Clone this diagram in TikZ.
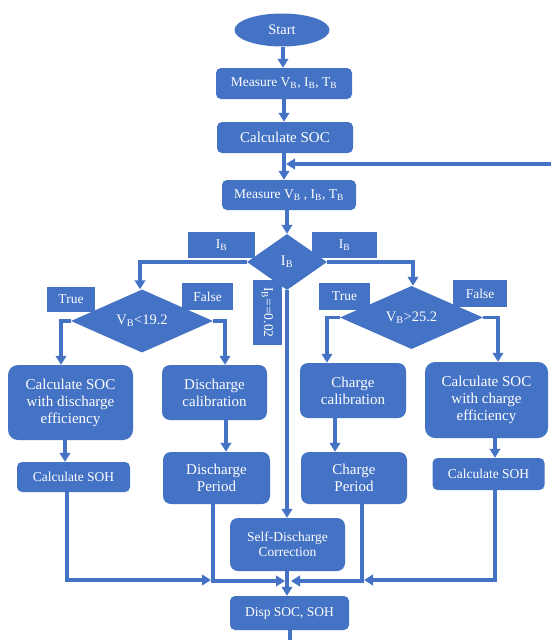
\documentclass[tikz,border=0pt]{standalone}
\usepackage{fontspec}
\setmainfont{Liberation Serif}
\usetikzlibrary{shapes.geometric,arrows.meta}
\definecolor{fcblue}{HTML}{4472C4}
\newcommand{\mysub}[1]{\textsubscript{#1}}
\begin{document}
\begin{tikzpicture}[x=1pt,y=-1pt,
  box/.style={fill=fcblue,text=white,rounded corners=5pt,inner sep=1pt,align=center,font=\fontsize{15}{17}\selectfont},
  sbox/.style={box,font=\fontsize{13.5}{15.5}\selectfont},
  lbl/.style={fill=fcblue,text=white,inner sep=1pt,align=center,font=\fontsize{13.5}{15}\selectfont},
  dia/.style={diamond,fill=fcblue,text=white,inner sep=0pt,font=\fontsize{14.5}{16}\selectfont},
  arr/.style={draw=fcblue,line width=3.2pt,-{Triangle[length=9pt,width=10.5pt]}},
  ln/.style={draw=fcblue,line width=3.2pt}
]
\fill[white] (0,0) rectangle (550,640);
\useasboundingbox (0,0) rectangle (550,640);

% nodes
\node[ellipse,fill=fcblue,text=white,minimum width=95pt,minimum height=33pt,inner sep=0pt,font=\fontsize{14.5}{16}\selectfont] (start) at (282,30) {Start};
\node[sbox,minimum width=136pt,minimum height=31pt] (m1) at (284,83.5) {Measure V\mysub{B}, I\mysub{B}, T\mysub{B}};
\node[box,minimum width=136pt,minimum height=31pt] (csoc) at (285,137.5) {Calculate SOC};
\node[sbox,minimum width=134pt,minimum height=30pt] (m2) at (289,195) {Measure V\mysub{B} , I\mysub{B}, T\mysub{B}};

\node[lbl,minimum width=67pt,minimum height=26pt] (ibl) at (221.5,245) {I\mysub{B}};
\node[lbl,minimum width=65pt,minimum height=26pt] (ibr) at (344.5,245) {I\mysub{B}};
\node[dia,minimum width=80pt,minimum height=56pt] (dib) at (287,262) {I\mysub{B}};

\node[lbl,minimum width=48pt,minimum height=25pt] (tl) at (71,299.5) {True};
\node[lbl,minimum width=51pt,minimum height=27pt] (fl) at (207.5,296.5) {False};
\node[lbl,minimum width=51pt,minimum height=27pt] (tr) at (344.5,296.5) {True};
\node[lbl,minimum width=54pt,minimum height=27pt] (fr) at (480,293.5) {False};

\node[dia,minimum width=142pt,minimum height=58pt] (dl) at (142,321) {V\mysub{B}<19.2};
\node[dia,minimum width=143pt,minimum height=59pt] (dr) at (411.5,317.5) {V\mysub{B}>25.2};

\node[lbl,rotate=-90,minimum width=65pt,minimum height=29pt] (ib0) at (267.5,312.5) {I\mysub{B}==0.02};

\node[box,rounded corners=10pt,minimum width=125pt,minimum height=75pt] (cse) at (70.5,402.5) {Calculate SOC\\with discharge\\efficiency};
\node[box,rounded corners=8pt,minimum width=105pt,minimum height=55pt] (dcal) at (214.5,392.5) {Discharge\\calibration};
\node[sbox,minimum width=113pt,minimum height=30pt] (sohl) at (73.5,477) {Calculate SOH};
\node[box,rounded corners=8pt,minimum width=107pt,minimum height=52pt] (dper) at (216.5,478) {Discharge\\Period};

\node[box,rounded corners=8pt,minimum width=106pt,minimum height=55pt] (ccal) at (353,390.5) {Charge\\calibration};
\node[box,rounded corners=10pt,minimum width=123pt,minimum height=76pt] (cce) at (486.5,400) {Calculate SOC\\with charge\\efficiency};
\node[box,rounded corners=8pt,minimum width=106pt,minimum height=52pt] (cper) at (354,478) {Charge\\Period};
\node[sbox,minimum width=112pt,minimum height=32pt] (sohr) at (488.5,474) {Calculate SOH};

\node[sbox,rounded corners=8pt,minimum width=115pt,minimum height=53pt] (sdc) at (287.5,544.5) {Self-Discharge\\Correction};
\node[sbox,minimum width=119pt,minimum height=34pt] (disp) at (289.5,613) {Disp SOC, SOH};

\coordinate (fb) at (551,164);
\coordinate (bot) at (290,641);

% connectors
\draw[arr] (start.south -| 283,0) -- (m1.north -| 283,0);
\draw[arr] (m1.south -| 284,0) -- (csoc.north -| 284,0);
\draw[arr] (csoc.south -| 284,0) -- (m2.north -| 284,0);
\draw[arr] (fb) -- (286,164);
\draw[arr] (m2.south -| 287,0) -- (dib.north);
\draw[arr] (dib.west) -- (140,262) -- (dl.north -| 140,0);
\draw[arr] (dib.east) -- (413,262) -- (dr.north -| 413,0);
\draw[arr] (dib.south) -- (sdc.north -| 287,0);

\draw[arr] (dl.west) -- (61,321) -- (cse.north -| 61,0);
\draw[arr] (dl.east) -- (225,321) -- (dcal.north -| 225,0);
\draw[arr] (dr.west) -- (327,317.5) -- (ccal.north -| 327,0);
\draw[arr] (dr.east) -- (498,317.5) -- (cce.north -| 498,0);

\draw[arr] (cse.south -| 65,0) -- (sohl.north -| 65,0);
\draw[arr] (dcal.south -| 226,0) -- (dper.north -| 226,0);
\draw[arr] (ccal.south -| 335,0) -- (cper.north -| 335,0);
\draw[arr] (cce.south -| 495,0) -- (sohr.north -| 495,0);

\draw[arr] (sohl.south -| 67,0) -- (67,580) -- (211,580);
\draw[arr] (dper.south -| 213,0) -- (213,581) -- (285,581);
\draw[arr] (cper.south -| 362,0) -- (362,581) -- (291,581);
\draw[arr] (sohr.south -| 495,0) -- (495,580) -- (364,580);

\draw[arr] (sdc.south -| 287,0) -- (disp.north -| 287,0);
\draw[ln] (disp.south -| 290,0) -- (bot);
\end{tikzpicture}
\end{document}
